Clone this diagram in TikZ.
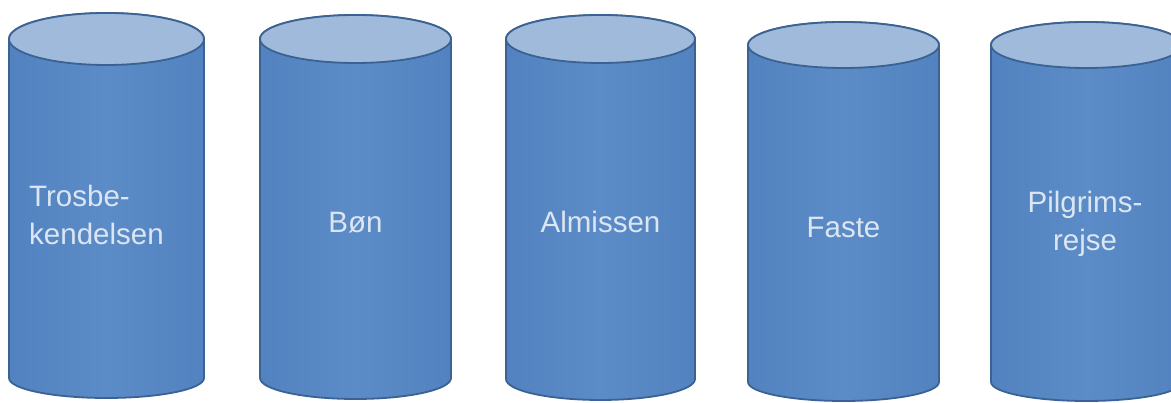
\documentclass[tikz,border=0pt]{standalone}
\usepackage{fontspec}
\setmainfont{Liberation Sans}
\definecolor{bodyedge}{HTML}{5283C0}
\definecolor{bodymid}{HTML}{5B8CC7}
\definecolor{topfill}{HTML}{A0BADC}
\definecolor{rimline}{HTML}{3A6292}
\definecolor{labeltext}{HTML}{DCE6F3}
\tikzset{
  cylbody/.style={draw=rimline, line width=1.8pt, left color=bodyedge, right color=bodyedge, middle color=bodymid},
  cyltop/.style={draw=rimline, line width=1.8pt, fill=topfill},
  cyllabel/.style={inner sep=0pt, text=labeltext, font=\fontsize{29.5}{38}\selectfont}
}
% #1 xl, #2 xr, #3 top centre y, #4 top ry, #5 bottom side y, #6 bottom ry
\newcommand{\drawcyl}[6]{%
  \pgfmathsetmacro{\cylrx}{(#2-#1)/2}%
  \pgfmathsetmacro{\cylcx}{(#2+#1)/2}%
  \path[cylbody] (#1,#3) -- (#1,#5)
     arc[start angle=180, end angle=360, x radius=\cylrx, y radius=#6]
     -- (#2,#3)
     arc[start angle=0, end angle=180, x radius=\cylrx, y radius=#4] -- cycle;
  \path[cyltop] (\cylcx,#3) ellipse [x radius=\cylrx, y radius=#4];
}
\begin{document}
\begin{tikzpicture}[x=1pt,y=1pt]
\useasboundingbox (0,0) rectangle (1171,403);
\fill[white] (0,0) rectangle (1171,403);
\begin{scope}
\clip (0,0) rectangle (1171,403);
\drawcyl{9}{204}{364}{26}{25}{20}
\drawcyl{260}{451}{364}{24}{25}{21}
\drawcyl{506}{695}{364}{24}{24}{21}
\drawcyl{748}{939}{358}{23}{21}{19}
\drawcyl{991}{1182}{358}{23}{21}{19}
\end{scope}
\node[cyllabel, anchor=base west] (tros) at (29,196) {\vtop{\hbox{Trosbe-}\hbox{kendelsen}}};
\node[cyllabel, anchor=base] (boen) at (355.5,170) {Bøn};
\node[cyllabel, anchor=base] (alm) at (600.5,170) {Almissen};
\node[cyllabel, anchor=base] (faste) at (843.5,165) {Faste};
\node[cyllabel, anchor=base] (pilg) at (1085,190) {\vtop{\halign{\hfil#\hfil\cr Pilgrims-\cr rejse\cr}}};
\end{tikzpicture}
\end{document}
